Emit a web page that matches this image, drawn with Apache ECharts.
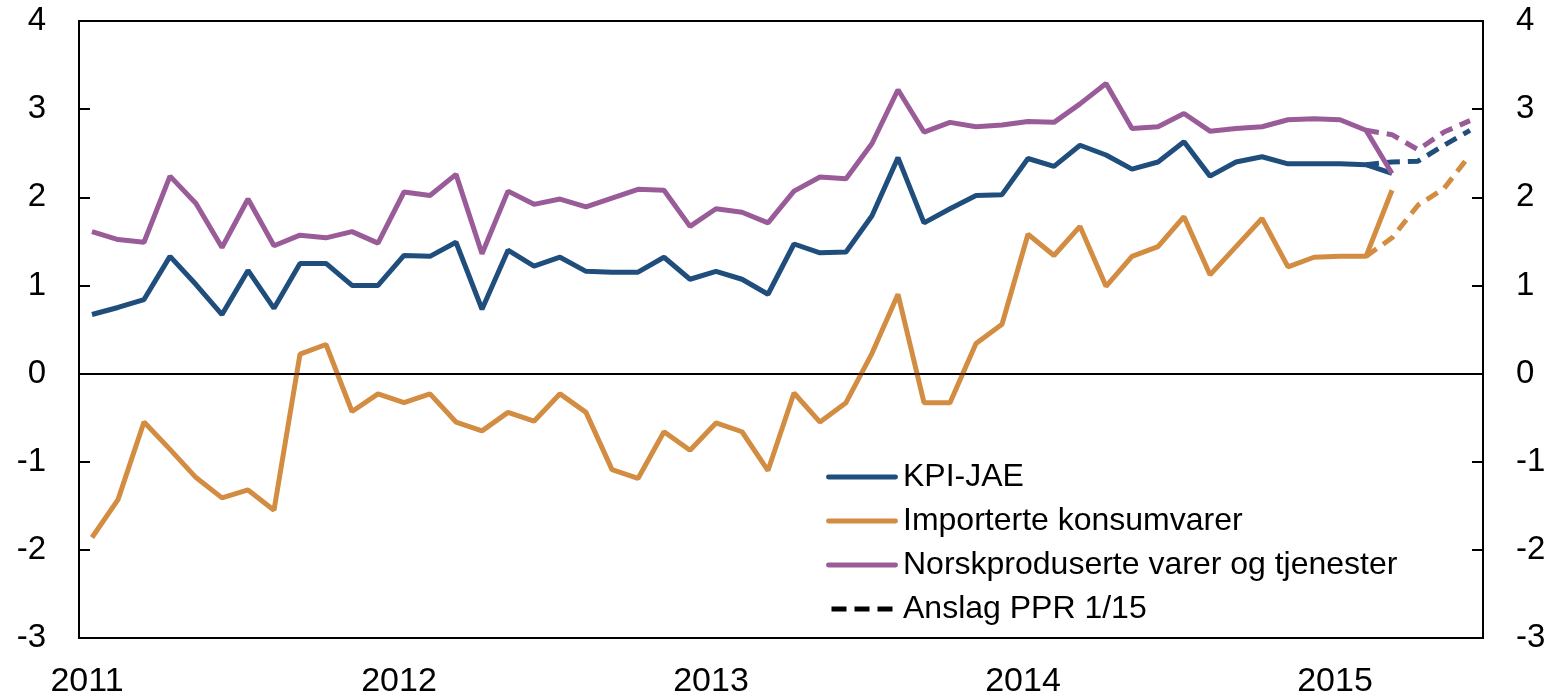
<!DOCTYPE html>
<html>
<head>
<meta charset="utf-8">
<script src="https://cdn.jsdelivr.net/npm/echarts@6/dist/echarts.min.js"></script>
<style>
  html, body { margin: 0; padding: 0; background: #fff; }
  #chart { width: 1552px; height: 699px; }
</style>
</head>
<body>
<div id="chart"></div>
<script>
  // måned 0 = jan 2011, siste faktiske = mar 2015
  const startYear = 2011;
  const yearTicks = [2011, 2012, 2013, 2014, 2015];

  const kpiJae = [
    0.67, 0.75, 0.84, 1.33, 1.01, 0.67, 1.17, 0.74, 1.25, 1.25, 1.00, 1.00,
    1.34, 1.33, 1.49, 0.73, 1.40, 1.22, 1.32, 1.16, 1.15, 1.15, 1.32, 1.07,
    1.16, 1.07, 0.90, 1.47, 1.37, 1.38, 1.79, 2.45, 1.71, 1.87, 2.02, 2.03,
    2.44, 2.35, 2.59, 2.48, 2.32, 2.40, 2.63, 2.24, 2.40, 2.46, 2.38, 2.38,
    2.38, 2.37, 2.27
  ];
  const importerte = [
    -1.86, -1.43, -0.55, -0.86, -1.18, -1.41, -1.32, -1.55, 0.22, 0.33, -0.43, -0.23,
    -0.33, -0.23, -0.55, -0.65, -0.44, -0.54, -0.23, -0.44, -1.09, -1.19, -0.66, -0.87,
    -0.56, -0.66, -1.10, -0.22, -0.55, -0.33, 0.23, 0.90, -0.33, -0.33, 0.34, 0.56,
    1.58, 1.34, 1.67, 0.99, 1.33, 1.44, 1.78, 1.12, 1.44, 1.76, 1.21, 1.32,
    1.33, 1.33, 2.08
  ];
  const norskproduserte = [
    1.61, 1.52, 1.49, 2.24, 1.93, 1.43, 1.98, 1.45, 1.57, 1.54, 1.61, 1.48,
    2.06, 2.02, 2.26, 1.36, 2.07, 1.92, 1.98, 1.89, 1.99, 2.09, 2.08, 1.67,
    1.87, 1.83, 1.71, 2.07, 2.23, 2.21, 2.61, 3.22, 2.74, 2.85, 2.80, 2.82,
    2.86, 2.85, 3.06, 3.29, 2.78, 2.80, 2.95, 2.75, 2.78, 2.80, 2.88, 2.89,
    2.88, 2.76, 2.27
  ];

  // anslag PPR 1/15, feb 2015 - jun 2015
  const anslagStart = 49;
  const kpiJaeAnslag = [2.37, 2.40, 2.41, 2.59, 2.76];
  const importerteAnslag = [1.33, 1.54, 1.91, 2.10, 2.48];
  const norskAnslag = [2.76, 2.71, 2.54, 2.74, 2.87];

  const names = ['KPI-JAE', 'Importerte konsumvarer', 'Norskproduserte varer og tjenester', 'Anslag PPR 1/15'];
  const colors = ['#1F4E7D', '#D28D42', '#995C98'];
  const font = 'Liberation Sans, Arial, sans-serif';

  // legend-ikoner: hel strek og stiplet strek
  const solidIcon = 'path://M2,0H70A2.5,2.5,0,0,1,70,5H2A2.5,2.5,0,0,1,2,0Z';
  const dashIcon = 'path://M0,0H15V5H0Z M23,0H38V5H23Z M46,0H61V5H46Z';

  const toPoints = (arr, offset) => arr.map((v, i) => [offset + i + 0.5, v]);

  const solid = (name, arr, color) => ({
    name: name,
    type: 'line',
    data: toPoints(arr, 0),
    symbol: 'none',
    z: 3,
    lineStyle: { color: color, width: 5 },
    itemStyle: { color: color }
  });

  const dashed = (name, arr, color) => ({
    name: name,
    type: 'line',
    data: toPoints(arr, anslagStart),
    symbol: 'none',
    z: 2,
    lineStyle: { color: color, width: 5, type: [13, 8] },
    itemStyle: { color: color }
  });

  const yAxisBase = (pos) => ({
    type: 'value',
    position: pos,
    min: -3,
    max: 4,
    interval: 1,
    axisLine: { show: true, lineStyle: { color: '#000', width: 2 } },
    axisTick: { show: true, inside: true, length: 11, lineStyle: { color: '#000', width: 2 } },
    axisLabel: { fontSize: 33, color: '#000', fontFamily: font, margin: 33 },
    splitLine: { show: false }
  });

  const chart = echarts.init(document.getElementById('chart'));
  chart.setOption({
    animation: false,
    backgroundColor: '#fff',
    grid: {
      left: 79, right: 69, top: 21, bottom: 61,
      show: true, borderColor: '#000', borderWidth: 2
    },
    legend: {
      data: [
        { name: names[0], icon: solidIcon },
        { name: names[1], icon: solidIcon },
        { name: names[2], icon: solidIcon },
        { name: names[3], icon: dashIcon }
      ],
      orient: 'vertical',
      left: 821,
      top: 456,
      itemWidth: 72,
      itemHeight: 5,
      itemGap: 12,
      textStyle: { fontSize: 32, lineHeight: 32, color: '#000', fontFamily: font }
    },
    xAxis: {
      type: 'value',
      min: 0,
      max: 54,
      interval: 12,
      axisLine: { show: true, lineStyle: { color: '#000', width: 2 } },
      axisTick: { show: false },
      splitLine: { show: false },
      axisLabel: {
        fontSize: 34,
        color: '#000',
        fontFamily: font,
        margin: 27,
        padding: [0, 0, 0, 16],
        showMaxLabel: false,
        formatter: (v) => (v % 12 === 0 ? String(yearTicks[v / 12] || startYear + v / 12) : '')
      }
    },
    yAxis: [yAxisBase('left'), yAxisBase('right')],
    series: [
      Object.assign(solid(names[0], kpiJae, colors[0]), {
        markLine: {
          silent: true,
          symbol: 'none',
          label: { show: false },
          lineStyle: { color: '#000', width: 1.5, type: 'solid' },
          data: [{ yAxis: 0 }]
        }
      }),
      solid(names[1], importerte, colors[1]),
      solid(names[2], norskproduserte, colors[2]),
      dashed('KPI-JAE anslag', kpiJaeAnslag, colors[0]),
      dashed('Importerte anslag', importerteAnslag, colors[1]),
      dashed('Norsk anslag', norskAnslag, colors[2]),
      {
        name: names[3],
        type: 'line',
        data: [],
        symbol: 'none',
        lineStyle: { color: '#000', width: 5, type: [15, 7] },
        itemStyle: { color: '#000' }
      }
    ]
  });
</script>
</body>
</html>
